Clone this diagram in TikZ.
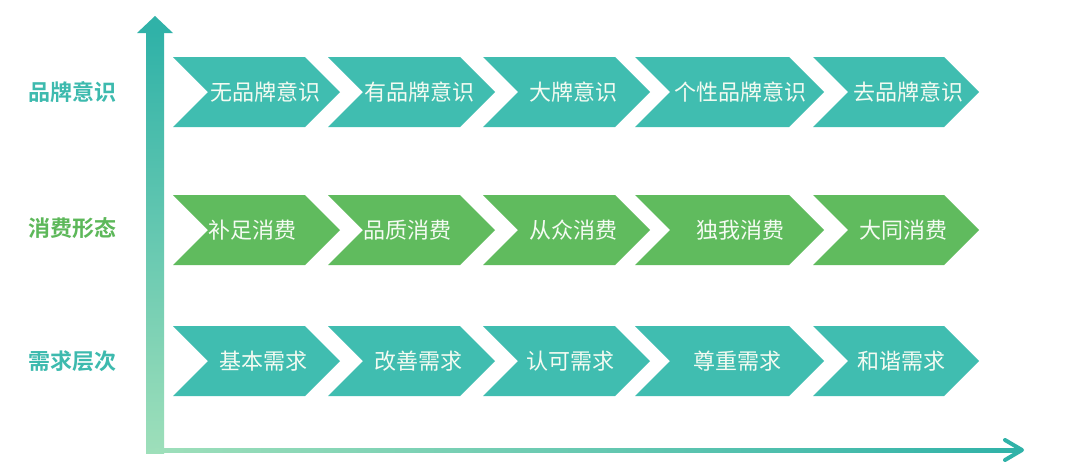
\documentclass[tikz,border=0pt]{standalone}
\usepackage{fontspec}
\newfontfamily\cjk{Noto Sans CJK SC}
\newfontfamily\cjkb{Noto Sans CJK SC Bold}
\definecolor{tealc}{HTML}{40BDB0}
\definecolor{greenc}{HTML}{60BB5E}
\definecolor{axtop}{HTML}{30B2A8}
\definecolor{axbot}{HTML}{9EDFBA}
\definecolor{labteal}{HTML}{3DBAAE}
\definecolor{labgreen}{HTML}{5DB85A}
\definecolor{chtext}{HTML}{F4FBF2}
\tikzset{
  chevtext/.style={inner sep=0pt, text=chtext, font=\cjk\fontsize{22}{26}\selectfont},
  rowlabel/.style={inner sep=0pt, font=\cjkb\fontsize{22}{26}\selectfont},
}
\newcommand\chevron[7]{%
  \fill[#5] (#2,#3-35) -- (#2+#4-35,#3-35) -- (#2+#4,#3) -- (#2+#4-35,#3+35) -- (#2,#3+35) -- (#2+35,#3) -- cycle;
  \node[chevtext] (#1) at (#6,#3) {#7};}
\begin{document}
\begin{tikzpicture}[x=1pt,y=-1pt]
\fill[white] (0,0) rectangle (1080,472);
\useasboundingbox (0,0) rectangle (1080,472);
% vertical axis
\shade[top color=axtop, bottom color=axbot] (146,32) rectangle (164,453);
\fill[axtop] (137,33) -- (155,16) -- (173,33) -- cycle;
% horizontal axis
\shade[left color=axbot, right color=axtop] (155,448) rectangle (1019,452);
\coordinate (hstart) at (1019,450);
\coordinate (htip) at (1022,450);
\draw[axtop, line width=4pt, line cap=round, line join=round] (1005,440) -- (htip) -- (1005,460);
% row labels
\node[rowlabel, text=labteal] (l1) at (72,92) {品牌意识};
\node[rowlabel, text=labgreen] (l2) at (72,228) {消费形态};
\node[rowlabel, text=labteal] (l3) at (72,361) {需求层次};
% row 1
\chevron{a1}{173}{92}{167}{tealc}{265}{无品牌意识}
\chevron{a2}{328}{92}{167}{tealc}{419}{有品牌意识}
\chevron{a3}{483}{92}{167}{tealc}{573}{大牌意识}
\chevron{a4}{635}{92}{189}{tealc}{740}{个性品牌意识}
\chevron{a5}{813}{92}{166}{tealc}{908}{去品牌意识}
% row 2
\chevron{b1}{173}{230}{167}{greenc}{252}{补足消费}
\chevron{b2}{328}{230}{167}{greenc}{407}{品质消费}
\chevron{b3}{483}{230}{167}{greenc}{573}{从众消费}
\chevron{b4}{635}{230}{189}{greenc}{740}{独我消费}
\chevron{b5}{813}{230}{166}{greenc}{903}{大同消费}
% row 3
\chevron{c1}{173}{361}{167}{tealc}{263}{基本需求}
\chevron{c2}{328}{361}{167}{tealc}{418}{改善需求}
\chevron{c3}{483}{361}{167}{tealc}{570}{认可需求}
\chevron{c4}{635}{361}{189}{tealc}{737}{尊重需求}
\chevron{c5}{813}{361}{166}{tealc}{901}{和谐需求}
\end{tikzpicture}
\end{document}
